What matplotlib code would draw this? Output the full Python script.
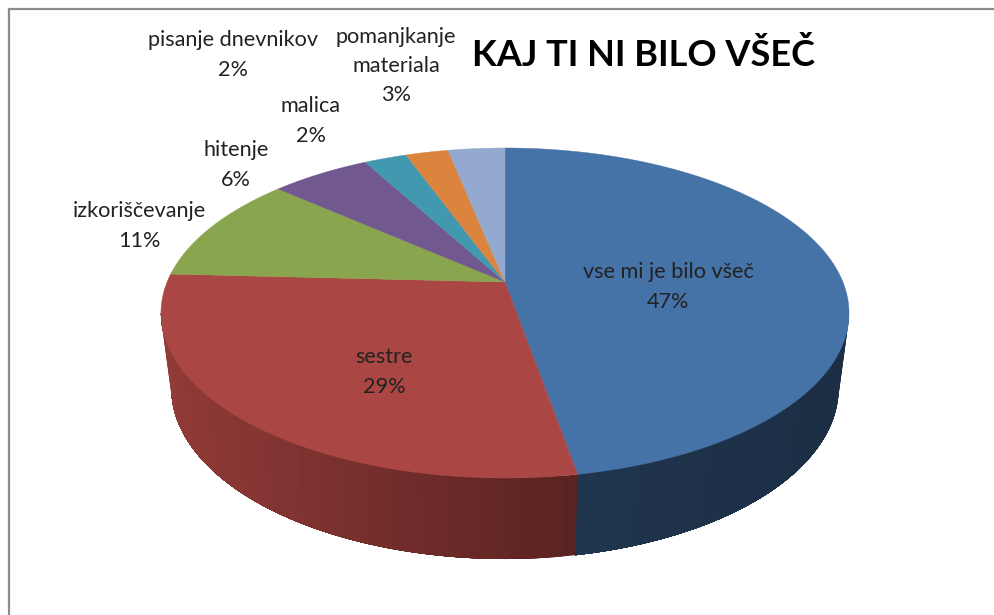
#!/usr/bin/env python
# -*- coding: utf-8 -*-
import matplotlib
matplotlib.use('Agg')
import matplotlib.pyplot as plt
import numpy as np

plt.rcParams['font.family'] = ['Lato', 'DejaVu Sans']

names = ['vse mi je bilo všeč', 'sestre', 'izkoriščevanje', 'hitenje', 'malica',
         'pisanje dnevnikov', 'pomanjkanje\nmateriala']
values = [47.2, 28.6, 10.6, 5.6, 2.4, 2.4, 3.2]
colors = ['#4572A7', '#AA4643', '#89A54E', '#71588F', '#4198AF', '#DB843D', '#93A9CF']
title = 'KAJ TI NI BILO VŠEČ'

# where the labels sit, in pixels of the original picture
label_pos = [(668, 287), (384, 372), (139, 226), (236, 165), (311, 121), (233, 55), (396, 66)]

# shading of the side wall: colour at the start and the end of the visible part
wall_shades = {0: ('#1B2E44', '#20364F'), 1: ('#5A2321', '#923B38')}

CX, CY = 505, 282
RX, RY, K = 337.9, 159.2, 0.188
WALL_CY, WALL_SX, WALL_SY = 355.9, 0.97, 1.036


def project(theta, cy=CY, sx=1.0, sy=1.0):
    # perspective view of the round pie, theta clockwise from the top
    u, v = np.sin(theta), np.cos(theta)
    d = 1 + K * v
    return CX + sx * RX * u / d, cy - sy * RY * v / d


def mix(c1, c2, t):
    a = np.array(matplotlib.colors.to_rgb(c1))
    b = np.array(matplotlib.colors.to_rgb(c2))
    return tuple(a + (b - a) * t)


def main():
    fig = plt.figure(figsize=(9.94, 6.15), dpi=100, facecolor='white')
    ax = fig.add_axes([0, 0, 1, 1])
    ax.set_xlim(0, 994)
    ax.set_ylim(615, 0)
    ax.axis('off')

    # frame of the pasted chart, no line on the right
    ax.plot([9, 9, 994], [615, 9, 9], color='#8C8C8C', linewidth=1.6, solid_joinstyle='miter')

    edges = np.concatenate([[0], np.cumsum(values)]) / np.sum(values) * 2 * np.pi

    # side wall, only between the two points where the rim turns away
    lim1 = np.arccos(-K)
    lim2 = 2 * np.pi - lim1
    for i in wall_shades:
        start, stop = max(edges[i], lim1), min(edges[i + 1], lim2)
        c_from, c_to = wall_shades[i]
        x_a, x_b = project(start)[0], project(stop)[0]
        steps = np.linspace(start, stop, 49)
        # each piece runs to the end of the slice, the next one paints over it: no seams
        for j in range(48):
            t = np.linspace(steps[j], stop, 100)
            x1, y1 = project(t)
            x2, y2 = project(t[::-1], WALL_CY, WALL_SX, WALL_SY)
            col = mix(c_from, c_to, (project(steps[j])[0] - x_a) / (x_b - x_a))
            ax.fill(np.r_[x1, x2], np.r_[y1, y2], color=col, linewidth=0)

    # top of the pie
    for i, col in enumerate(colors):
        t = np.linspace(edges[i], edges[i + 1], 120)
        x, y = project(t)
        ax.fill(np.r_[CX, x], np.r_[CY, y], facecolor=col, edgecolor=col, linewidth=0.3)

    for name, val, pos in zip(names, values, label_pos):
        ax.text(pos[0], pos[1], '%s\n%d%%' % (name, round(val)), ha='center', va='center',
                fontsize=15.6, color='#222222', linespacing=1.58)

    ax.text(644, 55, title, ha='center', va='center', fontsize=26, fontweight='bold', color='#000000')

    fig.savefig('out.png', dpi=100)


if __name__ == '__main__':
    main()
